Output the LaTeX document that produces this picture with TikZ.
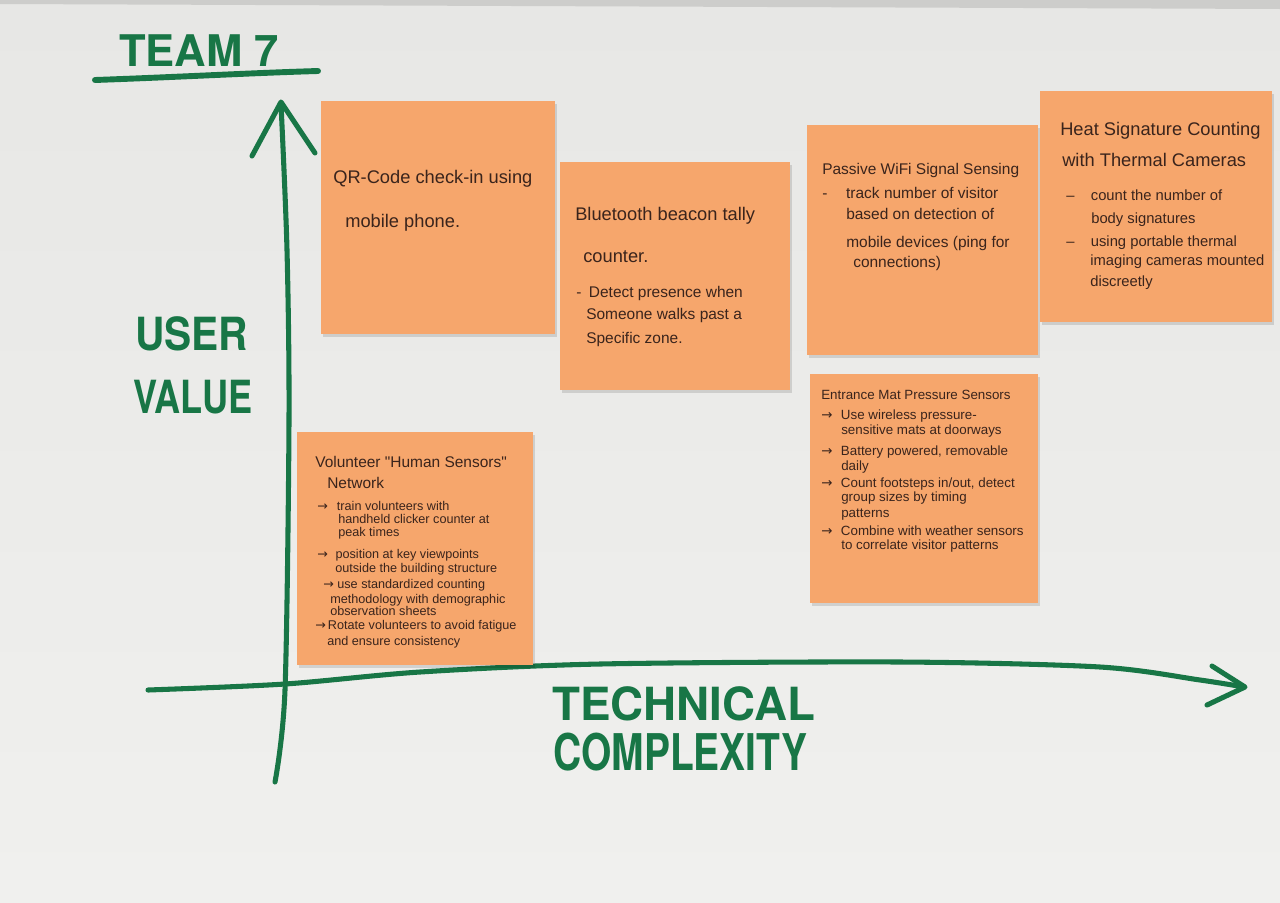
\documentclass[tikz,border=0pt]{standalone}
\usepackage{fontspec}
\usepackage{graphicx}
\setmainfont{Liberation Sans}
\newfontfamily\markerfont{TeX Gyre Heros}
\newfontfamily\hwsymfont{DejaVu Sans}
\newfontfamily\hwplainfont{Liberation Sans}
\newcommand\hwarrow{{\hwsymfont →}}
\newcommand\straightquote{{\hwplainfont\char34\relax}}
\newcommand\fs[1]{\fontsize{#1}{#1}\selectfont}
\newcommand\lead[2]{\makebox[#1][l]{#2}}

\definecolor{papertop}{RGB}{231,231,229}
\definecolor{paperbot}{RGB}{240,240,238}
\definecolor{paperedge}{RGB}{205,205,203}
\definecolor{markergreen}{RGB}{24,118,70}
\definecolor{noteorange}{RGB}{246,166,108}
\definecolor{ink}{RGB}{58,36,28}

\begin{document}
\begin{tikzpicture}[x=0.025cm,y=-0.025cm,
  marker/.style={draw=markergreen, line width=3.6pt, line cap=round, line join=round},
  note/.style={fill=noteorange},
  noteshadow/.style={fill=black, opacity=0.12},
  hw/.style={anchor=base west, inner sep=0pt, text=ink},
  big/.style={anchor=base west, inner sep=0pt, text=markergreen,
    font=\markerfont\bfseries\fontsize{32.5}{36}\selectfont},
]
\useasboundingbox (0,0) rectangle (1280,902);

% paper
\shade[top color=papertop, bottom color=paperbot] (0,0) rectangle (1280,902);
\fill[paperedge] (0,0) -- (1280,0) -- (1280,9) -- (0,4) -- cycle;

% title
\node[big, font=\markerfont\bfseries\fontsize{31}{34}\selectfont] (team) at (119,66) {TEAM 7};
\draw[marker, line width=4.2pt] (95,80) .. controls (180,77) and (250,73) .. (318,71);

% axis labels
\node[big] (user) at (135,350) {\scalebox{0.89}[1]{USER}};
\node[big] (value) at (133,413) {\scalebox{0.79}[1]{VALUE}};
\node[big] (tech) at (552,720) {TECHNICAL};
\node[big, font=\markerfont\bfseries\fontsize{36}{40}\selectfont] (cplx) at (553,770) {\scalebox{0.77}[1]{COMPLEXITY}};

% axes
\draw[marker] plot[smooth] coordinates {(275,782) (285,690) (289,420) (287,250) (281,104)};
\draw[marker] (252,156) -- (281,102) -- (315,153);
\draw[marker] plot[smooth] coordinates {(148,690) (285,684) (420,672) (600,664) (900,662) (1100,667) (1200,680) (1244,687)};
\draw[marker] (1212,666) -- (1245,687) -- (1207,705);

% sticky notes
\fill[noteshadow] (323,104) rectangle (557,337);
\fill[note] (321,101) rectangle (555,334);
\fill[noteshadow] (562,165) rectangle (792,393);
\fill[note] (560,162) rectangle (790,390);
\fill[noteshadow] (809,128) rectangle (1040,358);
\fill[note] (807,125) rectangle (1038,355);
\fill[noteshadow] (1042,94) rectangle (1274,325);
\fill[note] (1040,91) rectangle (1272,322);
\fill[noteshadow] (812,377) rectangle (1040,606);
\fill[note] (810,374) rectangle (1038,603);
\fill[noteshadow] (299,435) rectangle (535,668);
\fill[note] (297,432) rectangle (533,665);

% QR-code note
\node[hw, font=\fs{13}] (qr1) at (333,183) {QR-Code check-in using};
\node[hw, font=\fs{13}] (qr2) at (345,227) {mobile phone.};

% Bluetooth note
\node[hw, font=\fs{13}] (bt1) at (575,220) {Bluetooth beacon tally};
\node[hw, font=\fs{13}] (bt2) at (583,262) {counter.};
\node[hw, font=\fs{11}] (bt3) at (576,297) {\lead{9pt}{-}Detect presence when};
\node[hw, font=\fs{11}] (bt4) at (586,319) {Someone walks past a};
\node[hw, font=\fs{11}] (bt5) at (586,343) {Specific zone.};

% WiFi note
\node[hw, font=\fs{11}] (wf1) at (822,174) {Passive WiFi Signal Sensing};
\node[hw, font=\fs{11}] (wf2) at (822,198) {\lead{17pt}{-}track number of visitor};
\node[hw, font=\fs{11}] (wf3) at (846,219) {based on detection of};
\node[hw, font=\fs{11}] (wf4) at (846,247) {mobile devices (ping for};
\node[hw, font=\fs{11}] (wf5) at (853,267) {connections)};

% thermal note
\node[hw, font=\fs{13}] (ht1) at (1060,135) {Heat Signature Counting};
\node[hw, font=\fs{13}] (ht2) at (1062,166) {with Thermal Cameras};
\node[hw, font=\fs{10.5}] (ht3) at (1066,200) {\lead{17.5pt}{–}count the number of};
\node[hw, font=\fs{10.5}] (ht4) at (1091,223) {body signatures};
\node[hw, font=\fs{10.5}] (ht5) at (1066,246) {\lead{17.5pt}{–}using portable thermal};
\node[hw, font=\fs{10.5}] (ht6) at (1090,265) {imaging cameras mounted};
\node[hw, font=\fs{10.5}] (ht7) at (1090,286) {discreetly};

% pressure mat note
\node[hw, font=\fs{9.5}] (pm1) at (821,399) {Entrance Mat Pressure Sensors};
\node[hw, font=\fs{9.5}] (pm2) at (821,419) {\lead{14pt}{\hwarrow}Use wireless pressure-};
\node[hw, font=\fs{9.5}] (pm3) at (841,434) {sensitive mats at doorways};
\node[hw, font=\fs{9.5}] (pm4) at (821,455) {\lead{14pt}{\hwarrow}Battery powered, removable};
\node[hw, font=\fs{9.5}] (pm5) at (841,470) {daily};
\node[hw, font=\fs{9.5}] (pm6) at (821,487) {\lead{14pt}{\hwarrow}Count footsteps in/out, detect};
\node[hw, font=\fs{9.5}] (pm7) at (841,501) {group sizes by timing};
\node[hw, font=\fs{9.5}] (pm8) at (841,517) {patterns};
\node[hw, font=\fs{9.5}] (pm9) at (821,535) {\lead{14pt}{\hwarrow}Combine with weather sensors};
\node[hw, font=\fs{9.5}] (pm10) at (841,549) {to correlate visitor patterns};

% volunteer note
\node[hw, font=\fs{11}] (vh1) at (315,467) {Volunteer \straightquote Human Sensors\straightquote};
\node[hw, font=\fs{11}] (vh2) at (327,488) {Network};
\node[hw, font=\fs{9}] (vh3) at (317,510) {\lead{14pt}{\hwarrow}train volunteers with};
\node[hw, font=\fs{9}] (vh4) at (338,523) {handheld clicker counter at};
\node[hw, font=\fs{9}] (vh5) at (338,536) {peak times};
\node[hw, font=\fs{9}] (vh6) at (317,558) {\lead{13pt}{\hwarrow}position at key viewpoints};
\node[hw, font=\fs{9}] (vh7) at (335,572) {outside the building structure};
\node[hw, font=\fs{9}] (vh8) at (323,588) {\lead{10pt}{\hwarrow}use standardized counting};
\node[hw, font=\fs{9}] (vh9) at (330,603) {methodology with demographic};
\node[hw, font=\fs{9}] (vh10) at (330,615) {observation sheets};
\node[hw, font=\fs{9}] (vh11) at (315,629) {\lead{9pt}{\hwarrow}Rotate volunteers to avoid fatigue};
\node[hw, font=\fs{9}] (vh12) at (327,645) {and ensure consistency};
\end{tikzpicture}
\end{document}
